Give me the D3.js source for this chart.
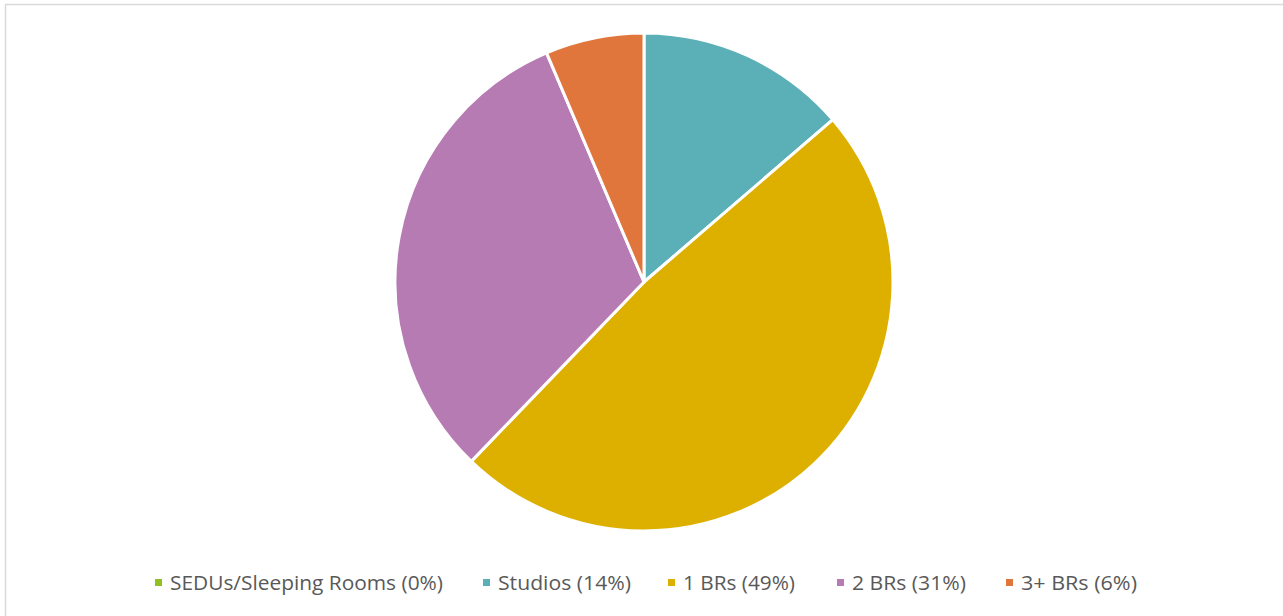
<!DOCTYPE html>
<html>
<head>
<meta charset="utf-8">
<script src="https://cdn.jsdelivr.net/npm/d3@7/dist/d3.min.js"></script>
<style>
  html, body { margin: 0; padding: 0; background: #fff; }
  svg { display: block; }
</style>
</head>
<body>
<svg id="chart" width="1283" height="616"></svg>
<script>
const categories = ["SEDUs/Sleeping Rooms", "Studios", "1 BRs", "2 BRs", "3+ BRs"];
const values = [0, 13.7, 48.5, 31.4, 6.4];
const labels = ["0%", "14%", "49%", "31%", "6%"];
const colors = ["#92c020", "#5bb0b8", "#ddb000", "#b77bb4", "#e0763c"];

const svg = d3.select("#chart");
const W = 1283, H = 616;

// chart border
svg.append("rect")
  .attr("x", 5.5).attr("y", 4.5)
  .attr("width", W + 10).attr("height", H + 10)
  .attr("fill", "#fff").attr("stroke", "#d9d9d9").attr("stroke-width", 1.5);

const cx = 644, cy = 282, r = 249;
const data = categories.map((c, i) => ({ name: c, value: values[i], label: labels[i], color: colors[i] }));

const pie = d3.pie().sort(null).value(d => d.value);
const arc = d3.arc().innerRadius(0).outerRadius(r);

svg.append("g")
  .attr("transform", `translate(${cx},${cy})`)
  .selectAll("path")
  .data(pie(data))
  .join("path")
  .attr("d", arc)
  .attr("fill", d => d.data.color)
  .attr("stroke", "#fff")
  .attr("stroke-width", 3)
  .attr("stroke-linejoin", "round");

// legend
const legendX = [155, 483, 668, 837, 1006];
const textW = [273, 133, 112, 114, 116];
const lg = svg.append("g").attr("font-family", "'Open Sans', sans-serif").attr("font-size", 20).attr("fill", "#595959");
data.forEach((d, i) => {
  lg.append("rect")
    .attr("x", legendX[i]).attr("y", 579)
    .attr("width", 7).attr("height", 7)
    .attr("fill", d.color);
  lg.append("text")
    .attr("x", legendX[i] + 15).attr("y", 590)
    .attr("textLength", textW[i])
    .attr("lengthAdjust", "spacingAndGlyphs")
    .text(`${d.name} (${d.label})`);
});
</script>
</body>
</html>
